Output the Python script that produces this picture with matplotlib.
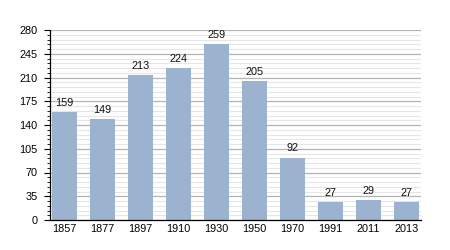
import matplotlib
matplotlib.use("Agg")
import matplotlib.pyplot as plt
from matplotlib.ticker import MultipleLocator

years = ["1857", "1877", "1897", "1910", "1930", "1950", "1970", "1991", "2011", "2013"]
population = [159, 149, 213, 224, 259, 205, 92, 27, 29, 27]
y_ticks = [0, 35, 70, 105, 140, 175, 210, 245, 280]

plt.rcParams["font.family"] = ["Liberation Sans", "DejaVu Sans"]
fig = plt.figure(figsize=(4.5, 2.5), dpi=100)
ax = fig.add_axes([50 / 450, 30 / 250, 371 / 450, 190 / 250])
x = list(range(len(years)))
ax.set_axisbelow(True)
ax.yaxis.set_minor_locator(MultipleLocator(7))
ax.grid(axis="y", which="minor", color="#e6e6e6", linewidth=0.8)
ax.grid(axis="y", which="major", color="#b4b4b4", linewidth=0.9)
ax.bar(x, population, width=0.66, color="#9bb3cf")
for xi, v in zip(x, population):
    ax.annotate(str(v), (xi, v), xytext=(0, 3), textcoords="offset points",
                ha="center", va="bottom", fontsize=7.8, color="#111111")
ax.set_xlim(-0.37, 9.38)
ax.set_ylim(0, 280)
ax.set_yticks(y_ticks)
ax.set_xticks(x)
ax.set_xticklabels(years)
ax.tick_params(axis="x", length=0, labelsize=7.8, pad=3)
ax.tick_params(axis="y", which="major", length=4.5, width=0.8, labelsize=7.8, pad=4.5)
ax.tick_params(axis="y", which="minor", length=2.3, width=0.6)
for s in ["top", "right"]:
    ax.spines[s].set_visible(False)
ax.spines["left"].set_linewidth(0.9)
ax.spines["bottom"].set_linewidth(0.9)
fig.savefig("out.png", dpi=100)
